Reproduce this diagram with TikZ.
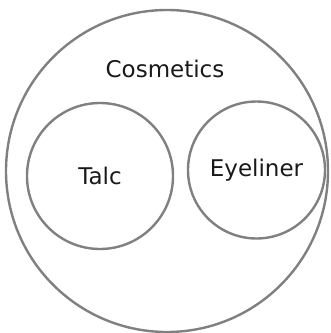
\documentclass[tikz,border=0pt]{standalone}
\usepackage{fontspec}
\setmainfont{DejaVu Sans}
\definecolor{ringgray}{HTML}{808080}
\tikzset{
	ring/.style={circle, draw=ringgray, line width=2.4pt, inner sep=0pt},
	lbl/.style={font=\fontsize{23}{27}\selectfont, text=black!90}
}
\begin{document}
\begin{tikzpicture}[x=1pt,y=-1pt]
	\useasboundingbox (0,0) rectangle (331,333);
	\node[ring, minimum size=322pt] (cosm) at (167,171) {};
	\node[lbl] (cosmtext) at (165,69) {Cosmetics};
	\node[ring, lbl, minimum size=146pt] (talc) at (100,176) {Talc};
	\node[ring, lbl, minimum size=137pt] (eyel) at (256.5,170) {Eyeliner};
\end{tikzpicture}
\end{document}
